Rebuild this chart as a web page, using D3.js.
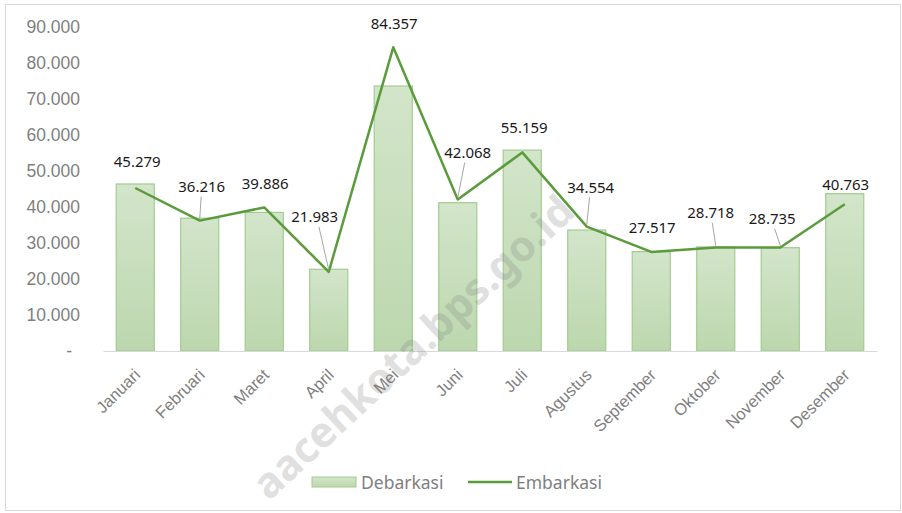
<!DOCTYPE html>
<html>
<head>
<meta charset="utf-8">
<script src="https://cdn.jsdelivr.net/npm/d3@7"></script>
<style>
  body { margin: 0; background: #fff; }
  svg { display: block; font-family: "Noto Sans", "Open Sans", sans-serif; }
</style>
</head>
<body>
<div class="chart"></div>
<script>
// data
let months = ["Januari", "Februari", "Maret", "April", "Mei", "Juni", "Juli",
  "Agustus", "September", "Oktober", "November", "Desember"];
let debarkasi = [46400, 36900, 38500, 22700, 73600, 41200, 55800, 33600, 27600, 28900, 28700, 43700];
let embarkasi = [45279, 36216, 39886, 21983, 84357, 42068, 55159, 34554, 27517, 28718, 28735, 40763];
let yTicks = [0, 10000, 20000, 30000, 40000, 50000, 60000, 70000, 80000, 90000];

// label placement (px from the point to the label centre) and leader-line flags
let labelNudge = [[2, -27], [2, -35], [1, -24], [-14, -56], [1, -24], [10, -48],
  [2, -25], [4, -40], [1, -25], [-5, -36], [-8, -30], [1, -20]];
let hasLeader = [false, true, false, true, false, true, false, true, false, true, true, false];

let svgWidth = 902;
let svgHeight = 513;
let margin = { top: 27, right: 25, bottom: 162, left: 103 };
let width = svgWidth - margin.left - margin.right;
let height = svgHeight - margin.top - margin.bottom;

let locale = d3.formatLocale({ decimal: ",", thousands: ".", grouping: [3], currency: ["", ""] });
let fmt = locale.format(",d");

let svg = d3.select(".chart")
  .append("svg")
  .attr("width", svgWidth)
  .attr("height", svgHeight);

// outer frame
svg.append("rect")
  .attr("x", 5.5).attr("y", 4.5)
  .attr("width", 895).attr("height", 506)
  .attr("fill", "#fff")
  .attr("stroke", "#d9d9d9");

let defs = svg.append("defs");
let grad = defs.append("linearGradient")
  .attr("id", "barFill")
  .attr("x1", 0).attr("y1", 0).attr("x2", 0).attr("y2", 1);
grad.append("stop").attr("offset", "0%").attr("stop-color", "#d3e5ca");
grad.append("stop").attr("offset", "100%").attr("stop-color", "#bcd7ae");

let chartGroup = svg.append("g")
  .attr("transform", `translate(${margin.left}, ${margin.top})`);

let x = d3.scaleBand()
  .domain(months)
  .range([0, width])
  .paddingInner(0.41)
  .paddingOuter(0.205);

let y = d3.scaleLinear()
  .domain([0, 90000])
  .range([height, 0]);

// y axis (labels only)
let leftAxis = d3.axisLeft(y)
  .tickValues(yTicks)
  .tickSize(0)
  .tickPadding(23)
  .tickFormat(d => d === 0 ? "-" : fmt(d));

let yAxis = chartGroup.append("g").call(leftAxis);
yAxis.select(".domain").remove();
yAxis.selectAll("text")
  .attr("fill", "#7f7f7f")
  .style("font-size", "17.5px")
  .attr("dx", d => d === 0 ? -8 : 0);

// bars
chartGroup.selectAll(".bar")
  .data(debarkasi)
  .enter()
  .append("rect")
  .attr("class", "bar")
  .attr("x", (d, i) => x(months[i]))
  .attr("y", d => y(d))
  .attr("width", x.bandwidth())
  .attr("height", d => height - y(d))
  .attr("fill", "url(#barFill)")
  .attr("stroke", "#a2cc8f")
  .attr("stroke-width", 1.2);

// x axis
let bottomAxis = d3.axisBottom(x).tickSize(0).tickPadding(0);
let xAxis = chartGroup.append("g")
  .attr("transform", `translate(0, ${height})`)
  .call(bottomAxis);
xAxis.select(".domain").attr("stroke", "#d9d9d9").attr("stroke-width", 1.2);
xAxis.selectAll("text")
  .attr("fill", "#7f7f7f")
  .style("font-size", "16.5px")
  .attr("text-anchor", "end")
  .attr("dy", 0)
  .attr("transform", "translate(6, 25) rotate(-45)");

// line
let cx = i => x(months[i]) + x.bandwidth() / 2;
let line = d3.line()
  .x((d, i) => cx(i))
  .y(d => y(d));

chartGroup.append("path")
  .datum(embarkasi)
  .attr("fill", "none")
  .attr("stroke", "#5a9b3c")
  .attr("stroke-width", 2.5)
  .attr("stroke-linejoin", "round")
  .attr("d", line);

// leader lines
chartGroup.selectAll(".leader")
  .data(embarkasi.filter((d, i) => hasLeader[i]).map(d => embarkasi.indexOf(d)))
  .enter()
  .append("line")
  .attr("class", "leader")
  .attr("x1", i => cx(i) + labelNudge[i][0] * 0.7)
  .attr("y1", i => y(embarkasi[i]) + labelNudge[i][1] + 11)
  .attr("x2", i => cx(i))
  .attr("y2", i => y(embarkasi[i]) - 2)
  .attr("stroke", "#a6a6a6")
  .attr("stroke-width", 1);

// data labels
chartGroup.selectAll(".dlabel")
  .data(embarkasi)
  .enter()
  .append("text")
  .attr("class", "dlabel")
  .attr("x", (d, i) => cx(i) + labelNudge[i][0])
  .attr("y", (d, i) => y(d) + labelNudge[i][1])
  .attr("text-anchor", "middle")
  .attr("dominant-baseline", "central")
  .style("font-size", "15px")
  .attr("fill", "#1a1a1a")
  .text(d => fmt(d));

// legend
let legend = svg.append("g").attr("transform", "translate(312, 482)");
legend.append("rect")
  .attr("x", 0).attr("y", -5)
  .attr("width", 44).attr("height", 10)
  .attr("fill", "url(#barFill)")
  .attr("stroke", "#a2cc8f");
legend.append("text")
  .attr("x", 49).attr("y", 0)
  .attr("dominant-baseline", "central")
  .attr("fill", "#7f7f7f")
  .style("font-size", "17.5px")
  .text("Debarkasi");
legend.append("line")
  .attr("x1", 156).attr("x2", 200)
  .attr("y1", 0).attr("y2", 0)
  .attr("stroke", "#5a9b3c")
  .attr("stroke-width", 2.5);
legend.append("text")
  .attr("x", 204).attr("y", 0)
  .attr("dominant-baseline", "central")
  .attr("fill", "#7f7f7f")
  .style("font-size", "17.5px")
  .text("Embarkasi");

// watermark
svg.append("text")
  .attr("transform", "translate(566, 202) rotate(-43)")
  .attr("text-anchor", "end")
  .attr("dominant-baseline", "central")
  .attr("fill", "#808080")
  .attr("opacity", 0.24)
  .style("font-size", "42px")
  .style("font-weight", "bold")
  .text("aacehkota.bps.go.id");
</script>
</body>
</html>
